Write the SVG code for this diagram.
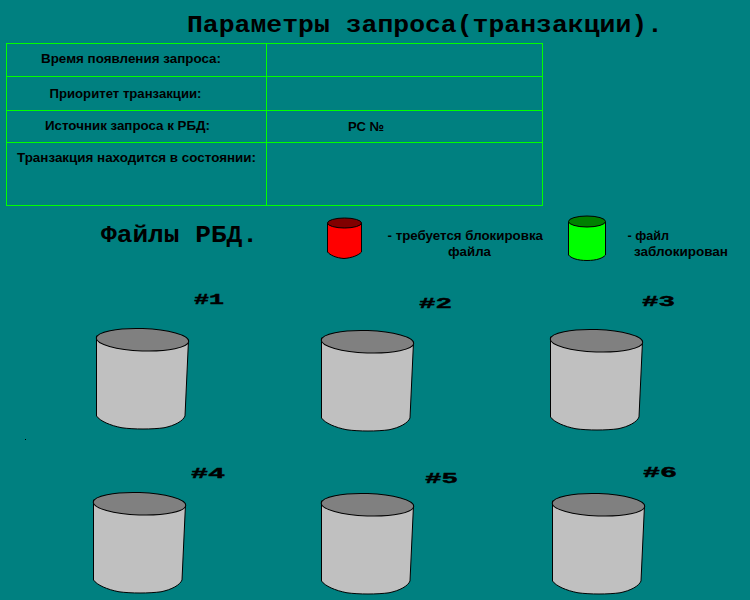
<svg xmlns="http://www.w3.org/2000/svg" width="750" height="600" viewBox="0 0 750 600">
<style>
.bg{fill:#008080}
.grid{fill:none;stroke:#00ff00;stroke-width:1}
.t{font-family:"Liberation Mono","Courier New",monospace;font-weight:bold;fill:#000;font-size:23px}
.l{font-family:"Liberation Sans",Arial,sans-serif;font-weight:bold;fill:#000;font-size:13.5px}
.n{font-family:"Liberation Mono","Courier New",monospace;font-weight:bold;fill:#000;stroke:#000;stroke-width:.4px;font-size:14px}
.o{stroke:#000;stroke-width:1}
.body{fill:#c0c0c0}.top{fill:#808080}
</style>
<defs>
<g id="cyl">
<path class="o body" d="M0.500,8V88C4,93 14,97.500 26,99.800C38,101.400 56,101.400 68,99.800C79,97.500 87,93 89,88L92.500,12Z"/>
<ellipse class="o top" cx="46.500" cy="11.700" rx="46.300" ry="11.200" transform="rotate(2 46.500 11.700)"/>
</g>
</defs>
<rect class="bg" width="750" height="600"/>
<text class="t" x="187" y="32" textLength="476" lengthAdjust="spacingAndGlyphs">Параметры запроса(транзакции).</text>
<g id="table">
<rect class="grid" x="6.500" y="43.500" width="536" height="162"/>
<path class="grid" d="M266.500,43.500V205.500M6.500,76.500H542.500M6.500,110.500H542.500M6.500,142.500H542.500"/>
<text class="l" x="41" y="63" textLength="180" lengthAdjust="spacingAndGlyphs">Время появления запроса:</text>
<text class="l" x="49.500" y="98" textLength="152" lengthAdjust="spacingAndGlyphs">Приоритет транзакции:</text>
<text class="l" x="45" y="130" textLength="165" lengthAdjust="spacingAndGlyphs">Источник запроса к РБД:</text>
<text class="l" x="17" y="162" textLength="239" lengthAdjust="spacingAndGlyphs">Транзакция находится в состоянии:</text>
<text class="l" x="348" y="131" textLength="36" lengthAdjust="spacingAndGlyphs">РС №</text>
</g>
<text class="t" x="101" y="242" textLength="157" lengthAdjust="spacingAndGlyphs">Файлы РБД.</text>
<g id="legend-red">
<path class="o" fill="#ff0000" d="M327.500,223V252C330,255 336,258 344,258.500C352,258 359,255 361.500,252V223Z"/>
<ellipse class="o" fill="#800000" cx="344.500" cy="223" rx="17" ry="5"/>
<text class="l" x="387.500" y="240" textLength="155.500" lengthAdjust="spacingAndGlyphs">- требуется блокировка</text>
<text class="l" x="448" y="256" textLength="43" lengthAdjust="spacingAndGlyphs">файла</text>
</g>
<g id="legend-green">
<path class="o" fill="#00ff00" d="M568.500,222V255C571,258 577,260.500 587,260.500C597,260.500 603,258 605.500,255V222Z"/>
<ellipse class="o" fill="#008000" cx="587" cy="221.500" rx="18.500" ry="5.500"/>
<text class="l" x="627.500" y="240" textLength="41.500" lengthAdjust="spacingAndGlyphs">- файл</text>
<text class="l" x="634" y="256" textLength="94" lengthAdjust="spacingAndGlyphs">заблокирован</text>
</g>
<g id="file1"><use href="#cyl" x="96" y="328"/><text class="n" x="194" y="304" textLength="30" lengthAdjust="spacingAndGlyphs">#1</text></g>
<g id="file2"><use href="#cyl" x="321" y="330"/><text class="n" x="419" y="308" textLength="33" lengthAdjust="spacingAndGlyphs">#2</text></g>
<g id="file3"><use href="#cyl" x="550" y="329"/><text class="n" x="642" y="306" textLength="33" lengthAdjust="spacingAndGlyphs">#3</text></g>
<g id="file4"><use href="#cyl" x="93" y="492"/><text class="n" x="191" y="478" textLength="34" lengthAdjust="spacingAndGlyphs">#4</text></g>
<g id="file5"><use href="#cyl" x="321" y="493"/><text class="n" x="425" y="483" textLength="33" lengthAdjust="spacingAndGlyphs">#5</text></g>
<g id="file6"><use href="#cyl" x="552" y="493"/><text class="n" x="643" y="477" textLength="34" lengthAdjust="spacingAndGlyphs">#6</text></g>
<rect x="25" y="439" width="1" height="1" fill="#000"/>
</svg>
